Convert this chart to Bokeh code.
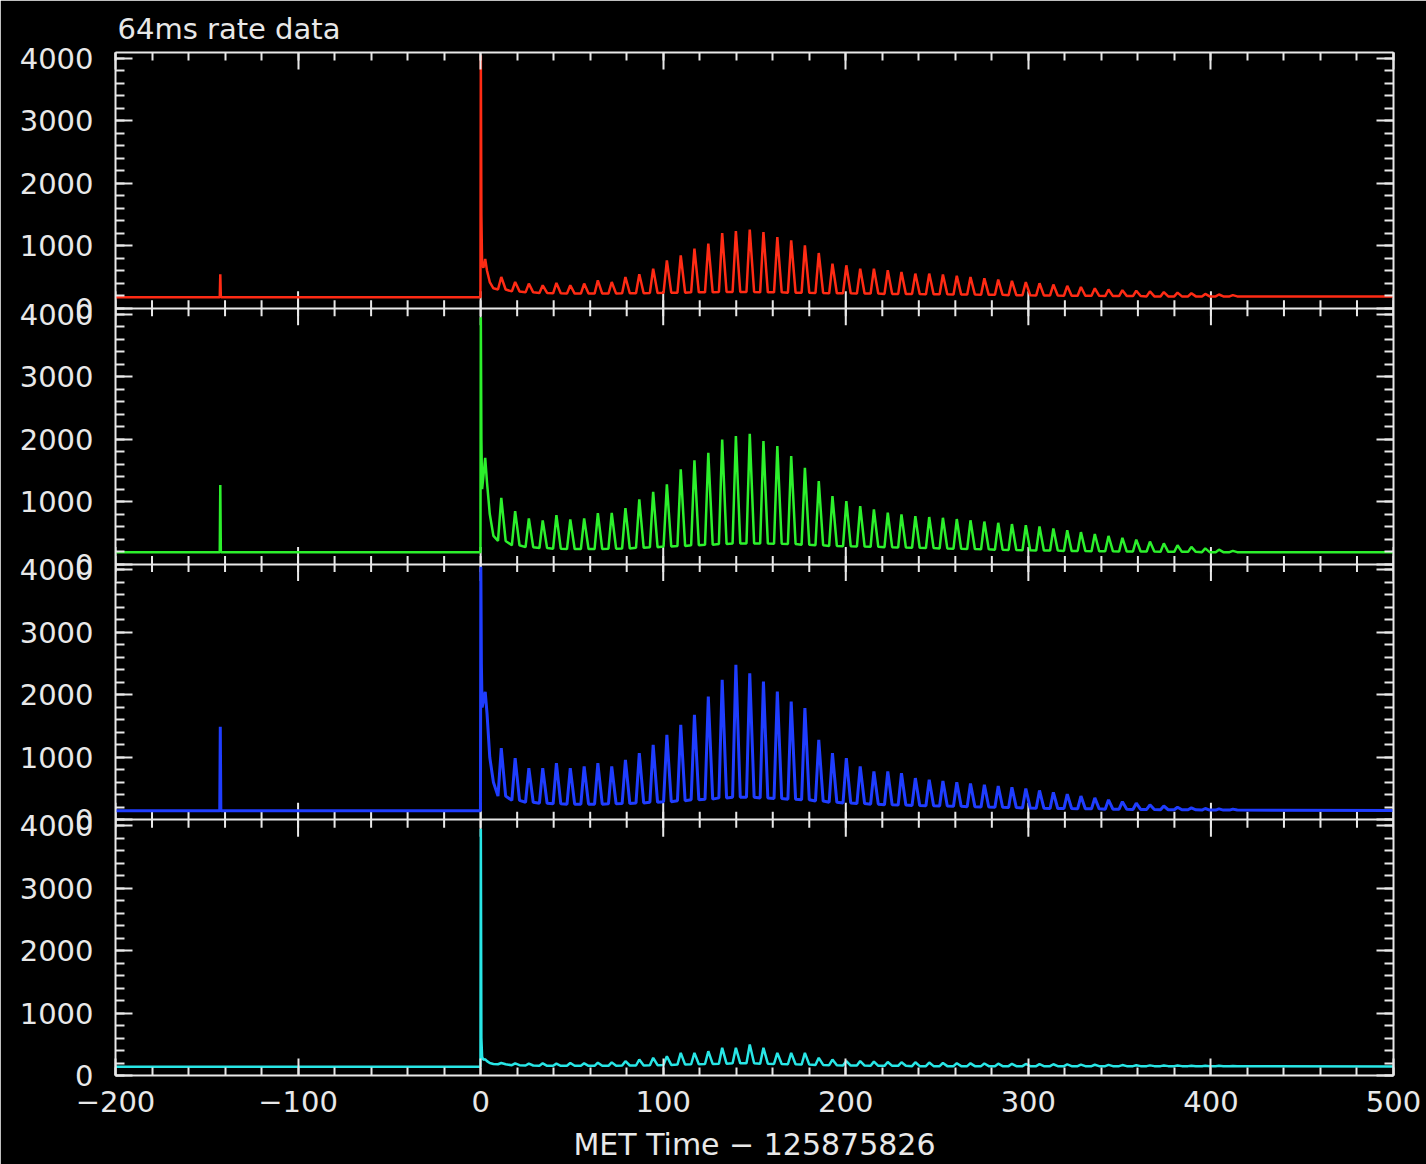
import numpy as np
from bokeh.plotting import figure
from bokeh.models import Range1d, LinearAxis, FixedTicker, CustomLabelingPolicy, AllLabels
from bokeh.embed import file_html
from bokeh.resources import INLINE

# ---------------------------------------------------------------- data
# times of the pulse maxima in the decaying tail (s after trigger)
pulse_t = [11.3, 18.9, 26.4, 34.0, 41.5, 49.1, 56.7, 64.2, 71.8, 79.3,
           86.9, 94.5, 102.0, 109.6, 117.1, 124.7, 132.3, 139.8, 147.4, 154.9,
           162.5, 170.1, 177.6, 185.2, 192.7, 200.3, 207.9, 215.4, 223.0, 230.5,
           238.1, 245.7, 253.2, 260.8, 268.3, 275.9, 283.5, 291.0, 298.6, 306.1,
           313.7, 321.3, 328.8, 336.4, 343.9, 351.5, 359.1, 366.6, 374.2, 381.7,
           389.3, 396.9, 404.4, 412.0]

# samples around the main spike (s after trigger)
burst_t = [-0.1, 0.1, 0.4, 0.8, 1.5, 2.5, 3.5, 5.0, 7.0]

# precursor time
precursor_t = -142.6

# detector 1 (red)
red_pre = 176
red_precursor = 544
red_burst = [176, 4050, 1500, 700, 650, 790, 600, 420, 320]
red_peak = [500, 420, 395, 368, 405, 368, 395, 448, 420, 500,
            544, 635, 768, 848, 955, 1035, 1205, 1237, 1259, 1221,
            1141, 1088, 1008, 885, 715, 688, 635, 635, 608, 581,
            555, 555, 540, 520, 500, 480, 460, 440, 420, 400,
            380, 360, 340, 320, 300, 290, 280, 270, 260, 250,
            240, 230, 220, 210]
red_trough = [300, 270, 255, 245, 240, 235, 235, 235, 235, 240,
              240, 245, 250, 250, 255, 255, 260, 260, 260, 255,
              255, 250, 250, 245, 240, 240, 235, 235, 230, 230,
              230, 225, 225, 220, 220, 215, 215, 210, 210, 205,
              205, 200, 200, 200, 195, 195, 195, 190, 190, 190,
              190, 190, 190, 190]
red_end = 190

# detector 2 (green)
green_pre = 190
green_precursor = 1264
green_burst = [190, 3950, 2000, 1200, 1400, 1700, 1300, 800, 450]
green_peak = [1061, 848, 731, 699, 784, 715, 731, 816, 819, 896,
              1035, 1157, 1275, 1515, 1659, 1781, 1995, 2048, 2085, 1968,
              1888, 1728, 1541, 1328, 1088, 1008, 928, 875, 821, 795,
              768, 752, 740, 720, 700, 680, 660, 640, 620, 600,
              570, 540, 510, 480, 450, 420, 390, 360, 330, 300,
              275, 250, 230, 210]
green_trough = [370, 300, 270, 255, 245, 240, 240, 240, 245, 250,
                260, 270, 280, 290, 300, 310, 320, 330, 330, 330,
                325, 320, 310, 300, 290, 285, 280, 275, 270, 265,
                260, 255, 250, 245, 240, 235, 230, 225, 220, 215,
                215, 210, 210, 205, 205, 200, 200, 200, 195, 195,
                195, 190, 190, 190]
green_end = 190

# detector 3 (blue)
blue_pre = 145
blue_precursor = 1488
blue_burst = [145, 4050, 2500, 1800, 1900, 2050, 1700, 1000, 600]
blue_peak = [1147, 987, 827, 827, 907, 827, 853, 907, 853, 960,
             1067, 1200, 1360, 1520, 1680, 1973, 2240, 2480, 2347, 2213,
             2053, 1893, 1787, 1280, 1067, 987, 853, 773, 773, 747,
             667, 640, 620, 600, 580, 560, 540, 520, 500, 470,
             440, 410, 380, 350, 320, 290, 265, 240, 220, 200,
             190, 180, 175, 170]
blue_trough = [380, 310, 280, 265, 255, 250, 250, 250, 255, 260,
               270, 280, 290, 305, 320, 330, 350, 360, 360, 350,
               340, 330, 320, 300, 280, 270, 260, 250, 240, 235,
               230, 225, 220, 215, 210, 205, 200, 195, 190, 185,
               180, 180, 175, 175, 170, 170, 165, 165, 160, 160,
               160, 155, 155, 155]
blue_end = 150

# detector 4 (cyan)
cyan_pre = 140
cyan_precursor = 140
cyan_burst = [140, 3950, 600, 300, 250, 260, 230, 200, 185]
cyan_peak = [200, 195, 190, 195, 190, 200, 195, 205, 210, 230,
             256, 283, 309, 363, 363, 389, 443, 443, 496, 443,
             363, 363, 363, 283, 256, 232, 232, 222, 217, 212,
             212, 207, 200, 197, 195, 192, 190, 187, 185, 182,
             180, 177, 175, 172, 170, 167, 165, 162, 160, 160,
             157, 155, 155, 152]
cyan_trough = [180, 165, 160, 155, 155, 155, 155, 155, 155, 160,
               160, 165, 170, 175, 180, 185, 190, 195, 195, 190,
               185, 180, 175, 170, 165, 160, 160, 155, 155, 155,
               150, 150, 150, 150, 150, 150, 150, 150, 150, 150,
               150, 150, 150, 150, 150, 150, 150, 150, 150, 150,
               150, 150, 150, 150]
cyan_end = 145

x_major = [-200, -100, 0, 100, 200, 300, 400, 500]
x_minor = list(range(-200, 501, 20))
y_major = [0, 1000, 2000, 3000, 4000]
y_minor = list(range(0, 4001, 200))

# ---------------------------------------------------------------- style
FONT = "DejaVu Sans"
AXC = "#e8e8e8"
X0, X1 = -200, 500
PANEL = 4096                 # counts spanned by one strip
NPAN = 4
FRAME_W, FRAME_H = 1278, 1024
LEFT, RIGHT, TOP, BOTTOM = 115, 33, 52, 88
CPP = NPAN * PANEL / FRAME_H  # counts per screen pixel
MAJ, MIN_X, MIN_Y = 17, 8, 9  # tick lengths in pixels


def light_curve(pre, precursor, burst, peaks, troughs, end):
    xs = [X0, precursor_t - 0.3, precursor_t, precursor_t + 0.3]
    ys = [pre, pre, precursor, pre]
    xs += list(burst_t)
    ys += list(burst)
    for t, pk, tr in zip(pulse_t, peaks, troughs):
        xs += [t - 1.8, t, t + 2.4]
        ys += [tr, pk, tr]
    xs.append(X1)
    ys.append(end)
    return np.array(xs, dtype=float), np.array(ys, dtype=float)


def style_axis(ax, labelled, minor_len):
    ax.axis_line_color = AXC
    ax.axis_line_width = 2
    ax.major_tick_line_color = AXC
    ax.major_tick_line_width = 2
    ax.minor_tick_line_color = AXC
    ax.minor_tick_line_width = 2
    ax.major_tick_in = MAJ
    ax.major_tick_out = 0
    ax.minor_tick_in = minor_len
    ax.minor_tick_out = 0
    if labelled:
        ax.major_label_text_color = AXC
        ax.major_label_text_font = FONT
        ax.major_label_text_font_size = "29px"
        ax.major_label_policy = AllLabels()
    else:
        ax.major_label_text_font_size = "0px"
        ax.major_label_standoff = 0
        ax.major_label_policy = CustomLabelingPolicy(code="return new Set()")


# strips are stacked bottom-up: cyan (0), blue (1), green (2), red (3)
strip_major = [k * PANEL + v for k in range(NPAN) for v in y_major]
strip_minor = [k * PANEL + v for k in range(NPAN) for v in y_minor]
strip_labels = {k * PANEL + v: str(v) for k in range(NPAN) for v in y_major}


def x_ticker():
    return FixedTicker(ticks=x_major, minor_ticks=x_minor)


def y_ticker():
    return FixedTicker(ticks=strip_major, minor_ticks=strip_minor)


p = figure(width=LEFT + FRAME_W + RIGHT, height=TOP + FRAME_H + BOTTOM,
           x_range=Range1d(X0, X1), y_range=Range1d(0, NPAN * PANEL),
           output_backend="svg", toolbar_location=None,
           title="64ms rate data",
           min_border_left=LEFT, min_border_right=RIGHT,
           min_border_top=TOP, min_border_bottom=BOTTOM,
           background_fill_color="black", border_fill_color="black",
           outline_line_color=None)
p.grid.visible = False

# one count range per strip, offset so each sits in its own quarter
strip_names = ["cyan", "blue", "green", "red"]
for k, name in enumerate(strip_names):
    p.extra_y_ranges[name] = Range1d(-k * PANEL, (NPAN - k) * PANEL)

# left axis: counts of every strip
ya = p.yaxis[0]
ya.ticker = y_ticker()
style_axis(ya, True, MIN_Y)
ya.major_label_overrides = strip_labels
ya.major_label_standoff = 22

# bottom axis: time
xa = p.xaxis[0]
xa.ticker = x_ticker()
style_axis(xa, True, MIN_X)
xa.major_label_standoff = 15
xa.major_label_overrides = {-200: "−200", -100: "−100"}
xa.axis_label = "MET Time − 125875826"
xa.axis_label_text_font = FONT
xa.axis_label_text_font_size = "30px"
xa.axis_label_text_font_style = "normal"
xa.axis_label_text_color = AXC
xa.axis_label_standoff = 12

# top and right frame axes, ticks only
top_ax = LinearAxis(ticker=x_ticker())
style_axis(top_ax, False, MIN_X)
p.add_layout(top_ax, "above")
right_ax = LinearAxis(ticker=y_ticker())
style_axis(right_ax, False, MIN_Y)
p.add_layout(right_ax, "right")

# strip separators with time ticks pointing into both neighbouring strips
seps = [k * PANEL for k in range(1, NPAN)]
p.hspan(y=seps, line_color=AXC, line_width=2)
for ticks, ln in ((x_major, MAJ), (x_minor, MIN_X)):
    tx, ty0, ty1 = [], [], []
    for s in seps:
        for t in ticks:
            tx.append(t)
            ty0.append(s - ln * CPP)
            ty1.append(s + ln * CPP)
    p.segment(x0=tx, y0=ty0, x1=tx, y1=ty1, line_color=AXC, line_width=2)

curves = {
    "red": (light_curve(red_pre, red_precursor, red_burst, red_peak, red_trough, red_end), "#ff2b14", 2.5),
    "green": (light_curve(green_pre, green_precursor, green_burst, green_peak, green_trough, green_end), "#2cf02c", 2.5),
    "blue": (light_curve(blue_pre, blue_precursor, blue_burst, blue_peak, blue_trough, blue_end), "#1f3dff", 3),
    "cyan": (light_curve(cyan_pre, cyan_precursor, cyan_burst, cyan_peak, cyan_trough, cyan_end), "#28e6e6", 2.5),
}
for name, ((xs, ys), color, lw) in curves.items():
    p.line(xs, ys, line_color=color, line_width=lw, y_range_name=name)

p.title.align = "left"
p.title.offset = 2
p.title.text_color = AXC
p.title.text_font = FONT
p.title.text_font_size = "29px"
p.title.text_font_style = "normal"
p.title.standoff = 14

with open("out.html", "w") as f:
    f.write(file_html(p, INLINE, "64ms rate data"))
